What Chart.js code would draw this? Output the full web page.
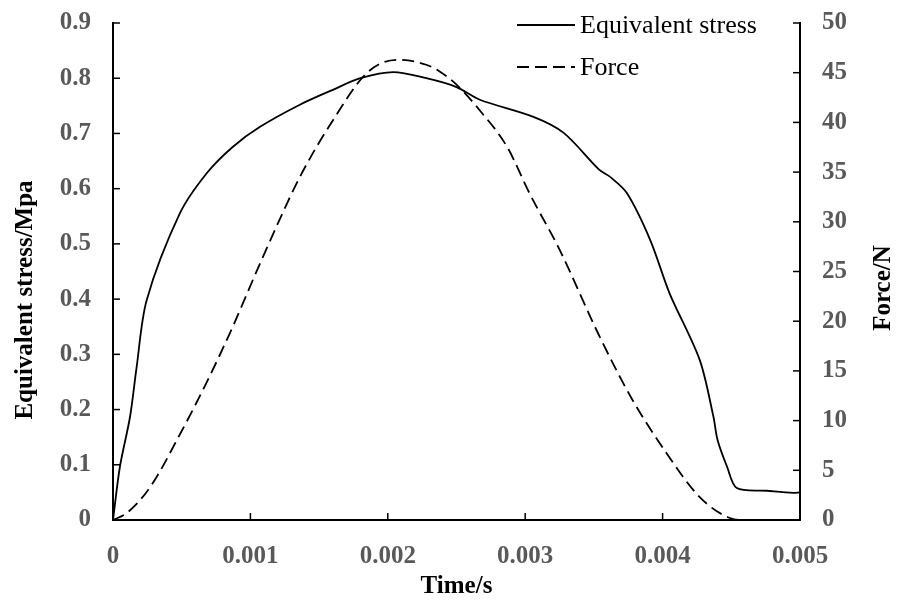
<!DOCTYPE html>
<html>
<head>
<meta charset="utf-8">
<script src="https://cdn.jsdelivr.net/npm/chart.js@4"></script>
<style>
  body { margin: 0; background: #fff; }
  #wrap { width: 900px; height: 603px; }
</style>
</head>
<body>
<div id="wrap"><canvas id="myChart" width="900" height="603"></canvas></div>
<script>
// time (s) and values
var stressTime = [0, 0.00005, 0.000124, 0.000172, 0.000245, 0.000488, 0.000682, 0.000873, 0.00107, 0.00136, 0.0016, 0.0018, 0.00204, 0.00228, 0.0025, 0.00267, 0.00306, 0.00328, 0.00354, 0.00362, 0.00374, 0.00391, 0.00405, 0.00427, 0.00437, 0.0044, 0.00447, 0.00454, 0.00476, 0.00495, 0.005];
var stressVal = [0, 0.096, 0.187, 0.277, 0.398, 0.556, 0.628, 0.676, 0.712, 0.752, 0.779, 0.800, 0.811, 0.800, 0.784, 0.761, 0.730, 0.701, 0.634, 0.621, 0.592, 0.507, 0.411, 0.290, 0.187, 0.145, 0.096, 0.058, 0.053, 0.049, 0.050];

var forceTime = [0, 0.0001, 0.00027, 0.00049, 0.00068, 0.00087, 0.00107, 0.00136, 0.0016, 0.00185, 0.00207, 0.00228, 0.00238, 0.0025, 0.00267, 0.00287, 0.00303, 0.00325, 0.00354, 0.00378, 0.00403, 0.00427, 0.00449, 0.0046, 0.005];
var forceVal = [0, 0.7, 3.3, 8.7, 13.8, 19.4, 25.8, 34.5, 40.2, 45.0, 46.3, 45.8, 45.1, 43.8, 41.2, 37.5, 32.9, 27.2, 18.5, 12.1, 6.7, 2.3, 0.2, 0, 0];

var seriesNames = ['Equivalent stress', 'Force'];
var xTitle = 'Time/s';
var yTitle = 'Equivalent stress/Mpa';
var y1Title = 'Force/N';

function pts(xs, ys) {
  var out = [];
  for (var i = 0; i < xs.length; i++) out.push({ x: xs[i], y: ys[i] });
  return out;
}

var tickFont = { family: 'Liberation Serif', size: 25, weight: 'bold' };
var tickColor = '#595959';

// inward tick marks, titles and legend
var extras = {
  id: 'extras',
  afterDraw: function (chart) {
    var ctx = chart.ctx;
    var a = chart.chartArea;
    ctx.save();
    ctx.strokeStyle = '#000';
    ctx.lineWidth = 1.5;
    var sx = chart.scales.x, sy = chart.scales.y, sy1 = chart.scales.y1;
    sx.ticks.forEach(function (t) {
      var p = sx.getPixelForValue(t.value);
      ctx.beginPath(); ctx.moveTo(p, a.bottom); ctx.lineTo(p, a.bottom - 7); ctx.stroke();
    });
    sy.ticks.forEach(function (t) {
      var p = sy.getPixelForValue(t.value);
      ctx.beginPath(); ctx.moveTo(a.left, p); ctx.lineTo(a.left + 7, p); ctx.stroke();
    });
    sy1.ticks.forEach(function (t) {
      var p = sy1.getPixelForValue(t.value);
      ctx.beginPath(); ctx.moveTo(a.right, p); ctx.lineTo(a.right - 7, p); ctx.stroke();
    });

    ctx.fillStyle = '#000';
    ctx.font = 'bold 25px "Liberation Serif"';
    ctx.textAlign = 'center';
    ctx.textBaseline = 'middle';
    ctx.fillText(xTitle, (a.left + a.right) / 2, 587);
    ctx.save();
    ctx.translate(26, 300);
    ctx.rotate(-Math.PI / 2);
    ctx.fillText(yTitle, 0, 0);
    ctx.restore();
    ctx.save();
    ctx.translate(884, 288);
    ctx.rotate(-Math.PI / 2);
    ctx.fillText(y1Title, 0, 0);
    ctx.restore();

    // legend
    ctx.font = '26px "Liberation Serif"';
    ctx.textAlign = 'left';
    chart.data.datasets.forEach(function (ds, i) {
      var yy = 25 + i * 42;
      ctx.beginPath();
      ctx.setLineDash(ds.borderDash || []);
      ctx.lineWidth = 1.8;
      ctx.moveTo(517, yy); ctx.lineTo(575, yy); ctx.stroke();
      ctx.setLineDash([]);
      ctx.fillText(ds.label, 580, yy + 1);
    });
    ctx.restore();
  }
};

function fitV(w) {
  return function (s) { s.width = w; s.paddingTop = 0; s.paddingBottom = 0; };
}

var ctx = document.getElementById('myChart').getContext('2d');
var myChart = new Chart(ctx, {
  type: 'line',
  data: {
    datasets: [{
      label: seriesNames[0],
      data: pts(stressTime, stressVal),
      yAxisID: 'y',
      borderColor: '#000',
      borderWidth: 1.8,
      pointRadius: 0,
      tension: 0.3,
      fill: false
    }, {
      label: seriesNames[1],
      data: pts(forceTime, forceVal),
      yAxisID: 'y1',
      borderColor: '#000',
      borderWidth: 1.8,
      borderDash: [12, 6],
      pointRadius: 0,
      cubicInterpolationMode: 'monotone',
      fill: false
    }]
  },
  options: {
    responsive: false,
    animation: false,
    layout: { padding: { top: 23, left: 0, right: 0, bottom: 0 } },
    plugins: { legend: { display: false }, tooltip: { enabled: false } },
    scales: {
      x: {
        type: 'linear',
        min: 0, max: 0.005,
        grid: { display: false, drawTicks: false },
        border: { color: '#000', width: 2 },
        ticks: {
          stepSize: 0.001, padding: 22, color: tickColor, font: tickFont,
          callback: function (v) { return v === 0 ? '0' : v.toFixed(3); }
        },
        afterFit: function (s) { s.height = 83; s.paddingLeft = 0; s.paddingRight = 0; }
      },
      y: {
        position: 'left',
        min: 0, max: 0.9,
        grid: { display: false, drawTicks: false },
        border: { color: '#000', width: 2 },
        ticks: {
          stepSize: 0.1, padding: 22, color: tickColor, font: tickFont,
          callback: function (v) { return v === 0 ? '0' : v.toFixed(1); }
        },
        afterFit: fitV(113)
      },
      y1: {
        position: 'right',
        min: 0, max: 50,
        grid: { display: false, drawTicks: false },
        border: { color: '#000', width: 2 },
        ticks: { stepSize: 5, padding: 22, color: tickColor, font: tickFont },
        afterFit: fitV(100)
      }
    }
  },
  plugins: [extras]
});
</script>
</body>
</html>
